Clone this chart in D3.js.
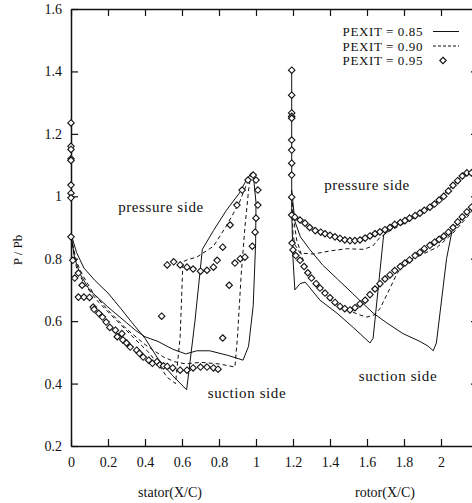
<!DOCTYPE html>
<html><head><meta charset="utf-8">
<script src="https://cdn.jsdelivr.net/npm/d3@7/dist/d3.min.js"></script>
<style>body{margin:0;background:#fff}svg{display:block}text{font-family:"Liberation Serif","Times New Roman",serif;fill:#111}</style>
</head><body><svg id="c" width="472" height="503"></svg>
<script>
// ---- data (X/C, P/Pb) ----
const xTicks = [0,0.2,0.4,0.6,0.8,1,1.2,1.4,1.6,1.8,2];
const xTickLabels = ["0","0.2","0.4","0.6","0.8","1","1.2","1.4","1.6","1.8","2"];
const yTicks = [0.2,0.4,0.6,0.8,1,1.2,1.4,1.6];
const yTickLabels = ["0.2","0.4","0.6","0.8","1","1.2","1.4","1.6"];
const legendLabels = ["PEXIT = 0.85","PEXIT = 0.90","PEXIT = 0.95"];

// PEXIT = 0.85 (solid)
const statorSolidA = [[0,0.88],[0.02,0.80],[0.05,0.75],[0.1,0.70],[0.2,0.645],[0.3,0.595],[0.35,0.57],[0.4,0.55],[0.47,0.535],[0.55,0.51],[0.62,0.495],[0.68,0.505],[0.75,0.505],[0.85,0.49],[0.93,0.475],[0.96,0.52],[0.985,0.65],[0.998,0.85],[1.0,0.98],[0.985,1.07]];
const statorSolidB = [[0,0.88],[0.03,0.82],[0.07,0.77],[0.13,0.73],[0.2,0.69],[0.27,0.64],[0.33,0.595],[0.4,0.545],[0.47,0.48],[0.55,0.425],[0.625,0.38],[0.67,0.6],[0.71,0.83],[0.77,0.89],[0.84,0.955],[0.91,1.01],[0.95,1.055],[0.975,1.075],[0.985,1.07]];
const rotorSolidA = [[1.193,1.40],[1.193,0.95],[1.2,0.80],[1.21,0.70],[1.238,0.72],[1.265,0.725],[1.28,0.715],[1.346,0.667],[1.437,0.626],[1.525,0.58],[1.6,0.539],[1.616,0.53],[1.633,0.545],[1.69,0.876],[1.75,0.905],[1.85,0.935],[1.95,0.968],[2.05,1.028],[2.13,1.075],[2.17,1.07],[2.2,1.0]];
const rotorSolidB = [[1.193,1.02],[1.21,0.92],[1.24,0.87],[1.29,0.83],[1.36,0.78],[1.44,0.735],[1.52,0.69],[1.56,0.667],[1.633,0.626],[1.708,0.594],[1.795,0.56],[1.886,0.535],[1.93,0.52],[1.958,0.505],[1.975,0.53],[2.03,0.8],[2.06,0.89],[2.1,0.922],[2.16,0.96],[2.2,0.99]];

// PEXIT = 0.90 (dashed)
const statorDashA = [[0,0.87],[0.03,0.79],[0.06,0.75],[0.12,0.69],[0.2,0.635],[0.3,0.575],[0.4,0.525],[0.5,0.485],[0.56,0.47],[0.62,0.463],[0.7,0.468],[0.8,0.463],[0.886,0.453],[0.9,0.55],[0.92,0.75],[0.94,0.9],[0.96,1.02],[0.97,1.06]];
const statorDashB = [[0,0.87],[0.03,0.77],[0.07,0.72],[0.15,0.66],[0.25,0.6],[0.35,0.54],[0.42,0.5],[0.48,0.455],[0.52,0.42],[0.565,0.40],[0.59,0.55],[0.605,0.79],[0.63,0.797],[0.68,0.805],[0.77,0.84],[0.84,0.905],[0.91,0.98],[0.95,1.04],[0.97,1.065]];
const rotorDashA = [[1.195,0.98],[1.2,0.88],[1.21,0.845],[1.238,0.818],[1.31,0.815],[1.4,0.825],[1.49,0.832],[1.58,0.83],[1.63,0.84],[1.67,0.868],[1.72,0.888],[1.8,0.913],[1.9,0.946],[2.0,0.99],[2.06,1.03],[2.13,1.075],[2.17,1.07]];
const rotorDashB = [[1.195,0.98],[1.21,0.90],[1.22,0.86],[1.255,0.795],[1.31,0.735],[1.4,0.67],[1.49,0.637],[1.56,0.62],[1.6,0.613],[1.64,0.62],[1.67,0.64],[1.72,0.70],[1.76,0.75],[1.795,0.78],[1.84,0.80],[1.886,0.81],[1.98,0.837],[2.065,0.882],[2.16,0.946],[2.2,0.98]];

// PEXIT = 0.95 (diamonds)
const statorMarkers = [[0,1.235],[0,1.16],[0,1.15],[0,1.12],[0,1.115],[0,1.036],[0,1.01],[0,0.995],[0,0.87],
 [0.01,0.795],[0.02,0.738],[0.04,0.754],[0.06,0.715],[0.04,0.677],[0.07,0.677],[0.1,0.676],[0.12,0.645],[0.125,0.638],[0.15,0.625],[0.17,0.613],[0.19,0.597],[0.21,0.58],[0.24,0.571],[0.25,0.55],[0.275,0.56],[0.28,0.54],[0.3,0.53],[0.32,0.517],[0.355,0.507],[0.37,0.497],[0.39,0.485],[0.42,0.475],[0.44,0.465],[0.465,0.47],[0.48,0.46],[0.5,0.457],[0.52,0.455],[0.55,0.45],[0.59,0.443],[0.627,0.443],[0.66,0.45],[0.7,0.453],[0.735,0.453],[0.77,0.45],[0.795,0.446],
 [0.82,0.546],[0.855,0.715],[0.886,0.786],[0.915,0.80],[0.94,0.805],[0.98,0.84],[0.995,0.885],[1.0,0.93],[1.01,0.972],[1.01,1.02],[1.0,1.052],[0.985,1.068],[0.957,1.052],[0.925,1.02],[0.897,0.972],[0.86,0.908],[0.82,0.837],[0.79,0.795],[0.77,0.773],[0.735,0.763],[0.7,0.76],[0.66,0.767],[0.627,0.773],[0.59,0.78],[0.555,0.79],[0.52,0.78],[0.49,0.616]];
const rotorMarkers = [[1.193,1.404],[1.193,1.324],[1.193,1.267],[1.193,1.256],[1.193,1.25],[1.193,1.18],[1.193,1.148],[1.193,1.106],[1.193,1.068],[1.193,0.997],[1.193,0.94],
 [1.21,0.933],[1.238,0.924],[1.265,0.914],[1.29,0.90],[1.32,0.89],[1.35,0.885],[1.373,0.88],[1.4,0.875],[1.427,0.87],[1.454,0.865],[1.48,0.86],[1.508,0.858],[1.535,0.858],[1.562,0.86],[1.59,0.866],[1.616,0.873],[1.643,0.88],[1.67,0.886],[1.697,0.893],[1.724,0.90],[1.75,0.91],[1.78,0.916],[1.805,0.922],[1.83,0.93],[1.86,0.938],[1.886,0.946],[1.91,0.955],[1.94,0.965],[1.965,0.975],[1.99,0.988],[2.015,1.0],[2.04,1.017],[2.065,1.035],[2.09,1.05],[2.115,1.065],[2.14,1.075],[2.165,1.075],
 [1.195,0.85],[1.2,0.828],[1.215,0.81],[1.238,0.795],[1.26,0.775],[1.28,0.755],[1.3,0.738],[1.325,0.72],[1.346,0.706],[1.373,0.69],[1.4,0.675],[1.427,0.66],[1.454,0.647],[1.48,0.64],[1.508,0.636],[1.535,0.643],[1.562,0.655],[1.59,0.667],[1.616,0.685],[1.643,0.703],[1.67,0.72],[1.697,0.735],[1.724,0.748],[1.75,0.762],[1.78,0.775],[1.805,0.786],[1.83,0.796],[1.86,0.81],[1.886,0.82],[1.91,0.832],[1.94,0.843],[1.965,0.853],[1.99,0.862],[2.015,0.872],[2.04,0.885],[2.065,0.90],[2.09,0.918],[2.115,0.934],[2.14,0.95],[2.165,0.965]];

// ---- drawing ----
const svg = d3.select("#c");
const L = 71, R = 478, T = 9, B = 446;
const x = d3.scaleLinear().domain([0, 2.2]).range([L, R]);
const y = d3.scaleLinear().domain([0.2, 1.6]).range([B, T]);

svg.append("clipPath").attr("id","clip").append("rect").attr("x",L).attr("y",T).attr("width",R-L).attr("height",B-T);
svg.append("clipPath").attr("id","clipM").append("rect").attr("x",L-6).attr("y",T).attr("width",R-L+6).attr("height",B-T);
const g = svg.append("g").attr("clip-path","url(#clip)");
const gm = svg.append("g").attr("clip-path","url(#clipM)");
const line = d3.line().x(d=>x(d[0])).y(d=>y(d[1]));

[statorSolidA, statorSolidB, rotorSolidA, rotorSolidB].forEach(s=>{
  g.append("path").attr("d", line(s)).attr("fill","none").attr("stroke","#111").attr("stroke-width",1);
});
[statorDashA, statorDashB, rotorDashA, rotorDashB].forEach(s=>{
  g.append("path").attr("d", line(s)).attr("fill","none").attr("stroke","#111").attr("stroke-width",1).attr("stroke-dasharray","4,3");
});
const squareDiamond = { draw(ctx, size){ const r = Math.sqrt(size/2); ctx.moveTo(0,-r); ctx.lineTo(r,0); ctx.lineTo(0,r); ctx.lineTo(-r,0); ctx.closePath(); } };
const diamond = d3.symbol().type(squareDiamond).size(21);

// axes
const axStyle = sel => { sel.select(".domain").attr("stroke","#111").attr("stroke-width",1.5); sel.selectAll(".tick line").attr("stroke","#111").attr("stroke-width",1.2); sel.selectAll("text").style("font-family","Liberation Serif").style("font-size","14px").attr("fill","#111"); };
svg.append("g").attr("transform",`translate(${L},0)`)
  .call(d3.axisLeft(y).tickValues(yTicks).tickFormat((d,i)=>yTickLabels[i]).tickSizeInner(-7).tickSizeOuter(0).tickPadding(9)).call(axStyle);
svg.append("g").attr("transform",`translate(0,${B})`)
  .call(d3.axisBottom(x).tickValues(xTicks).tickFormat((d,i)=>xTickLabels[i]).tickSizeInner(-7).tickSizeOuter(0).tickPadding(11)).call(axStyle);
svg.append("g").attr("transform",`translate(0,${T})`)
  .call(d3.axisTop(x).tickValues(xTicks).tickFormat("").tickSizeInner(-7).tickSizeOuter(0)).call(axStyle);
svg.append("g").attr("transform",`translate(${R},0)`)
  .call(d3.axisRight(y).tickValues(yTicks).tickFormat("").tickSizeInner(-7).tickSizeOuter(0)).call(axStyle);

// markers on top of the axes
const gm2 = svg.append("g").attr("clip-path","url(#clipM)");
[statorMarkers, rotorMarkers].forEach(s=>{
  gm2.selectAll(null).data(s).enter().append("path")
    .attr("d", diamond).attr("transform", d=>`translate(${x(d[0])},${y(d[1])})`)
    .attr("fill","#fff").attr("stroke","#111").attr("stroke-width",1.1);
});

// titles
svg.append("text").attr("x",170).attr("y",497).attr("text-anchor","middle").style("font-size","14px").text("stator(X/C)");
svg.append("text").attr("x",385).attr("y",497).attr("text-anchor","middle").style("font-size","14px").text("rotor(X/C)");
svg.append("text").attr("transform","translate(22,250) rotate(-90)").attr("text-anchor","middle").style("font-size","13px").text("P / Pb");

// annotations
const ann = (t,cx,cy)=>svg.append("text").attr("x",cx).attr("y",cy).attr("text-anchor","middle").style("font-size","15px").style("letter-spacing","0.6px").text(t);
ann("pressure side",161,212);
ann("pressure side",367,190);
ann("suction side",247,398);
ann("suction side",398,381);

// legend
const lg = svg.append("g");
const ly = [31.5,46,60.5];
legendLabels.forEach((t,i)=>{
  lg.append("text").attr("x",423).attr("y",ly[i]+4.5).attr("text-anchor","end").style("font-size","13px").style("letter-spacing","0.6px").text(t);
});
lg.append("line").attr("x1",433).attr("x2",459).attr("y1",ly[0]).attr("y2",ly[0]).attr("stroke","#111").attr("stroke-width",1);
lg.append("line").attr("x1",433).attr("x2",459).attr("y1",ly[1]).attr("y2",ly[1]).attr("stroke","#111").attr("stroke-width",1).attr("stroke-dasharray","3,2");
lg.append("path").attr("d",diamond).attr("transform",`translate(443,${ly[2]})`).attr("fill","#fff").attr("stroke","#111").attr("stroke-width",1.1);
</script></body></html>
